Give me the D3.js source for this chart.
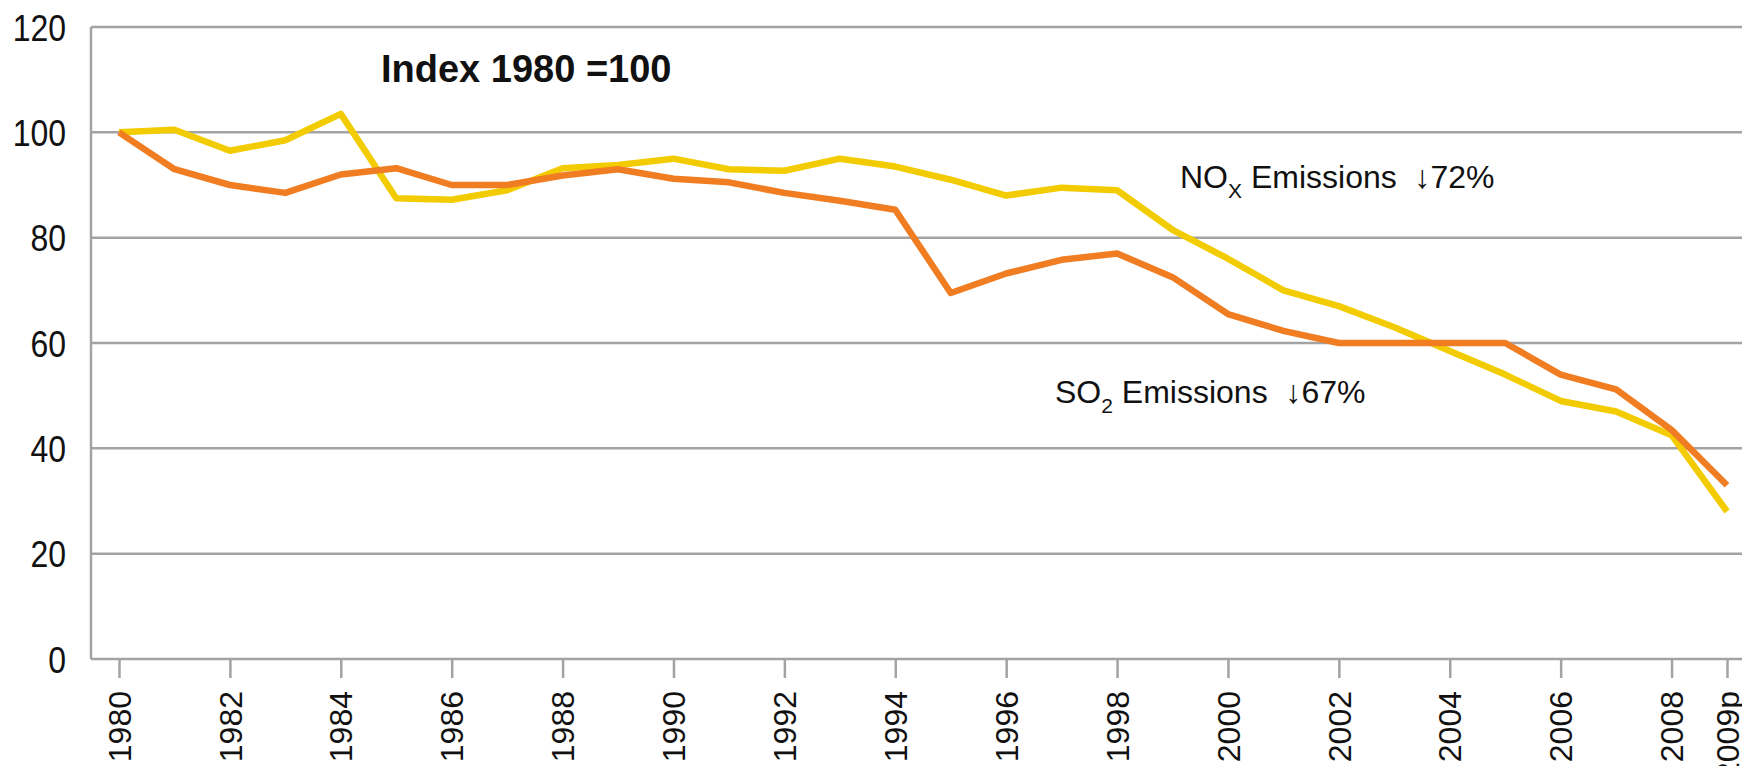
<!DOCTYPE html>
<html>
<head>
<meta charset="utf-8">
<script src="https://cdn.jsdelivr.net/npm/d3@7"></script>
<style>
  body { margin: 0; background: #fff; }
  svg { font-family: "Liberation Sans", Arial, sans-serif; }
</style>
</head>
<body>
<div class="canvas"></div>
<script>
const years = ['1980','1981','1982','1983','1984','1985','1986','1987','1988','1989',
  '1990','1991','1992','1993','1994','1995','1996','1997','1998','1999',
  '2000','2001','2002','2003','2004','2005','2006','2007','2008','2009p'];
const tickYears = ['1980','1982','1984','1986','1988','1990','1992','1994','1996','1998',
  '2000','2002','2004','2006','2008','2009p'];
const nox = [100, 100.5, 96.5, 98.5, 103.5, 87.5, 87.2, 89, 93.2, 93.8,
  95, 93, 92.7, 95, 93.5, 91, 88, 89.5, 89, 81.5,
  76, 70, 67, 63, 58.5, 54, 49, 47, 42.5, 28];
const so2 = [100, 93, 90, 88.5, 92, 93.2, 90, 90, 91.8, 93,
  91.2, 90.5, 88.5, 87, 85.3, 69.5, 73.2, 75.8, 77, 72.5,
  65.5, 62.3, 60, 60, 60, 60, 54, 51.2, 43.5, 33];
const yTicks = [0, 20, 40, 60, 80, 100, 120];

const width = 1742, height = 766;
const plotLeft = 91, plotRight = 1742, plotTop = 27, plotBottom = 659;

const svg = d3.select('.canvas')
  .append('svg')
  .attr('width', width)
  .attr('height', height);

const x = d3.scalePoint()
  .domain(years)
  .range([119, 1727]);

const y = d3.scaleLinear()
  .domain([0, 120])
  .range([plotBottom, plotTop]);

// gridlines
svg.append('g')
  .selectAll('line')
  .data(yTicks.filter(d => d > 0))
  .enter()
  .append('line')
  .attr('x1', plotLeft)
  .attr('x2', plotRight)
  .attr('y1', d => y(d))
  .attr('y2', d => y(d))
  .attr('stroke', '#a3a3a3')
  .attr('stroke-width', 2.5);

// y labels - a bit stretched vertically like the source image
svg.append('g')
  .selectAll('text')
  .data(yTicks)
  .enter()
  .append('text')
  .attr('transform', d => `translate(66,${y(d) + 13.5}) scale(1,1.18)`)
  .attr('text-anchor', 'end')
  .attr('font-size', 32)
  .attr('fill', '#111')
  .text(d => d);

// x axis, ticks only on labelled years
const xAxis = d3.axisBottom(x)
  .tickValues(tickYears)
  .tickSize(19)
  .tickPadding(10);

const gx = svg.append('g')
  .attr('transform', `translate(0,${plotBottom})`)
  .call(xAxis);

gx.select('.domain').remove();
gx.selectAll('.tick line')
  .attr('stroke', '#a3a3a3')
  .attr('stroke-width', 2.5);
gx.selectAll('.tick text')
  .attr('font-size', 32)
  .attr('fill', '#111')
  .attr('font-family', '"Liberation Sans", Arial, sans-serif')
  .attr('text-anchor', 'end')
  .attr('transform', 'rotate(-90)')
  .attr('x', -32)
  .attr('y', 0)
  .attr('dy', '0.35em');

// axis frame lines
svg.append('line')
  .attr('x1', plotLeft).attr('x2', plotLeft)
  .attr('y1', plotTop).attr('y2', plotBottom)
  .attr('stroke', '#a3a3a3').attr('stroke-width', 2.5);
svg.append('line')
  .attr('x1', plotLeft).attr('x2', plotRight)
  .attr('y1', plotBottom).attr('y2', plotBottom)
  .attr('stroke', '#a3a3a3').attr('stroke-width', 2.5);

const line = d3.line()
  .x((d, i) => x(years[i]))
  .y(d => y(d));

svg.append('path')
  .datum(nox)
  .attr('d', line)
  .attr('fill', 'none')
  .attr('stroke', '#f2cc00')
  .attr('stroke-width', 6.5)
  .attr('stroke-linejoin', 'round');

svg.append('path')
  .datum(so2)
  .attr('d', line)
  .attr('fill', 'none')
  .attr('stroke', '#f07d22')
  .attr('stroke-width', 6.5)
  .attr('stroke-linejoin', 'round');

// title
svg.append('text')
  .attr('x', 381)
  .attr('y', 82)
  .attr('font-size', 38)
  .attr('font-weight', 'bold')
  .attr('fill', '#111')
  .text('Index 1980 =100');

// annotations
function label(xp, yp, main, sub, rest) {
  const t = svg.append('text')
    .attr('x', xp)
    .attr('y', yp)
    .attr('font-size', 32)
    .attr('fill', '#111')
    .style('white-space', 'pre');
  t.append('tspan').text(main);
  t.append('tspan').attr('font-size', 21).attr('dy', 10).text(sub);
  t.append('tspan').attr('dy', -10).text(rest);
}
label(1180, 188, 'NO', 'X', ' Emissions  \u219372%');
label(1055, 403, 'SO', '2', ' Emissions  \u219367%');
</script>
</body>
</html>
